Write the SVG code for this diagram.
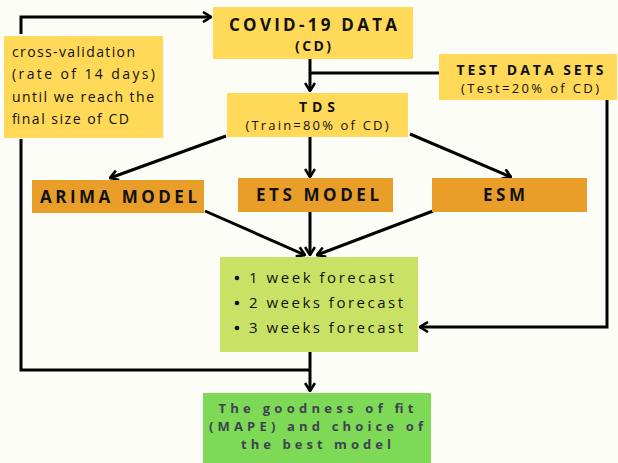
<svg xmlns="http://www.w3.org/2000/svg" width="618" height="463" viewBox="0 0 618 463">
<defs>
<marker id="ah" viewBox="0 0 10 12" refX="9" refY="6" markerWidth="10" markerHeight="12" markerUnits="userSpaceOnUse" orient="auto">
<path d="M1,1 L9,6 L1,11" fill="none" stroke="#000" stroke-width="2.6" stroke-linejoin="miter"/>
</marker>
<style>
.yel{fill:#ffd957}
.org{fill:#e89e29}
.frc{fill:#c9e265}
.fin{fill:#7ed957}
.t{font-family:"Open Sans","DejaVu Sans",sans-serif;fill:#111}
.b{font-weight:bold}
.c{text-anchor:middle}
.fz{fill:#3d4450}
.ln{fill:none;stroke:#000;stroke-width:3}
</style>
</defs>
<rect width="618" height="463" fill="#fdfdf8"/>
<g id="connectors">
<path class="ln" d="M21,34 V17 H211" marker-end="url(#ah)"/>
<path class="ln" d="M21,139 V370 H310"/>
<path class="ln" d="M310,352 V391" marker-end="url(#ah)"/>
<path class="ln" d="M310,59 V91" marker-end="url(#ah)"/>
<path class="ln" d="M310,73 H439"/>
<path class="ln" d="M607,100 V327 H420" marker-end="url(#ah)"/>
<path class="ln" d="M226,136 L110,178" marker-end="url(#ah)"/>
<path class="ln" d="M310,137 V177" marker-end="url(#ah)"/>
<path class="ln" d="M410,134 L511,177" marker-end="url(#ah)"/>
<path class="ln" d="M205,211 L305,255" marker-end="url(#ah)"/>
<path class="ln" d="M310,212 V255" marker-end="url(#ah)"/>
<path class="ln" d="M433,211 L317,255" marker-end="url(#ah)"/>
</g>
<g id="covid">
<rect class="yel" x="213" y="7" width="200" height="52"/>
<text class="t b c" x="313" y="31" font-size="17" textLength="168" lengthAdjust="spacing">COVID-19 DATA</text>
<text class="t b c" x="313" y="51" font-size="14" textLength="36" lengthAdjust="spacing">(CD)</text>
</g>
<g id="crossval">
<rect class="yel" x="4" y="36" width="159" height="102"/>
<text class="t" x="12" y="57" font-size="14" textLength="123" lengthAdjust="spacing">cross-validation</text>
<text class="t" x="12" y="79" font-size="14" textLength="143" lengthAdjust="spacing">(rate of 14 days)</text>
<text class="t" x="12" y="102" font-size="14" textLength="142" lengthAdjust="spacing">until we reach the</text>
<text class="t" x="12" y="124" font-size="14" textLength="117" lengthAdjust="spacing">final size of CD</text>
</g>
<g id="tds">
<rect class="yel" x="227" y="93" width="181" height="44"/>
<text class="t b c" x="317" y="112" font-size="14" textLength="36" lengthAdjust="spacing">TDS</text>
<text class="t c" x="317" y="130" font-size="13" textLength="143" lengthAdjust="spacing">(Train=80% of CD)</text>
</g>
<g id="testdata">
<rect class="yel" x="439" y="54" width="178" height="46"/>
<text class="t b c" x="530" y="75" font-size="14" textLength="147" lengthAdjust="spacing">TEST DATA SETS</text>
<text class="t c" x="530" y="93" font-size="13" textLength="138" lengthAdjust="spacing">(Test=20% of CD)</text>
</g>
<g id="arima">
<rect class="org" x="32" y="180" width="172" height="33"/>
<text class="t b" x="40" y="203" font-size="17" textLength="157" lengthAdjust="spacing">ARIMA MODEL</text>
</g>
<g id="ets">
<rect class="org" x="238" y="178" width="155" height="34"/>
<text class="t b" x="256" y="201" font-size="17" textLength="123" lengthAdjust="spacing">ETS MODEL</text>
</g>
<g id="esm">
<rect class="org" x="432" y="178" width="155" height="34"/>
<text class="t b" x="483" y="201" font-size="17" textLength="42" lengthAdjust="spacing">ESM</text>
</g>
<g id="forecast">
<rect class="frc" x="220" y="257" width="198" height="95"/>
<circle cx="237" cy="278" r="2.3" fill="#111"/>
<circle cx="237" cy="303" r="2.3" fill="#111"/>
<circle cx="237" cy="328" r="2.3" fill="#111"/>
<text class="t" x="249" y="283" font-size="15" textLength="145" lengthAdjust="spacing">1 week forecast</text>
<text class="t" x="249" y="308" font-size="15" textLength="154" lengthAdjust="spacing">2 weeks forecast</text>
<text class="t" x="249" y="333" font-size="15" textLength="154" lengthAdjust="spacing">3 weeks forecast</text>
</g>
<g id="final">
<rect class="fin" x="203" y="393" width="228" height="70"/>
<text class="t b c fz" x="316" y="413" font-size="13" textLength="195" lengthAdjust="spacing">The goodness of fit</text>
<text class="t b c fz" x="316" y="431" font-size="13" textLength="214" lengthAdjust="spacing">(MAPE) and choice of</text>
<text class="t b c fz" x="316" y="449" font-size="13" textLength="150" lengthAdjust="spacing">the best model</text>
</g>
</svg>
